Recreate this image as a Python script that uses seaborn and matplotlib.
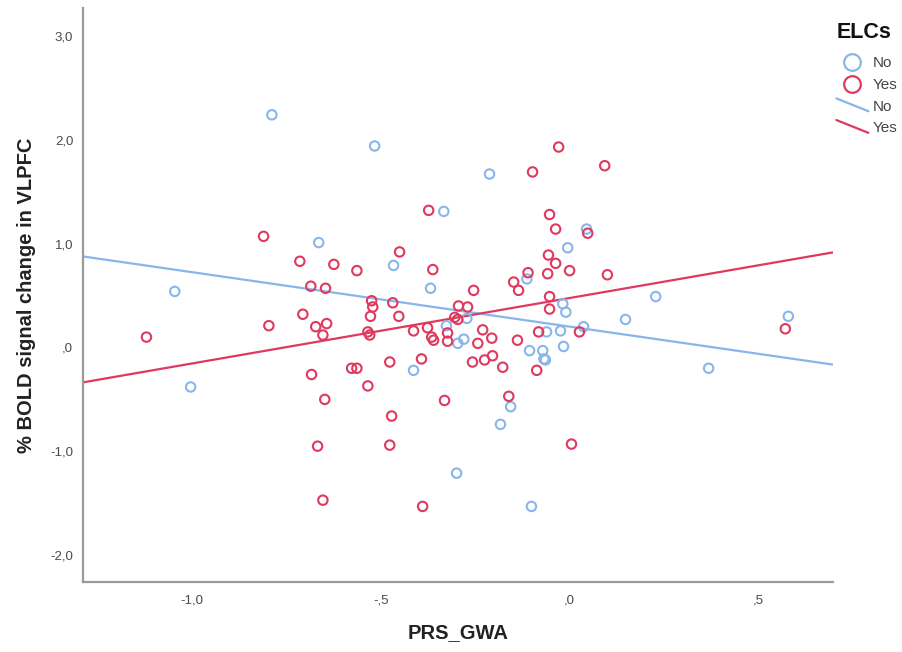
"""
Dispersión PRS_GWA vs % señal BOLD en VLPFC, por grupo ELCs (No / Yes),
con recta de ajuste lineal para cada grupo.
"""
import numpy as np
import pandas as pd
import matplotlib
matplotlib.use('Agg')
import matplotlib.pyplot as plt
import seaborn as sns
from matplotlib.lines import Line2D
from matplotlib.legend_handler import HandlerBase
from matplotlib.ticker import FuncFormatter

sns.set_theme(style='white')
plt.rcParams['font.family'] = ['Liberation Sans', 'DejaVu Sans']

# ─────────────────────────────────────────────
# Datos
# ─────────────────────────────────────────────
no_x = [-1.045, -1.003, -0.788, -0.664, -0.516, -0.466, -0.413, -0.368, -0.333,
        -0.326, -0.296, -0.280, -0.272, -0.299, -0.212, -0.183, -0.156, -0.113,
        -0.106, -0.101, -0.071, -0.068, -0.064, -0.061, -0.024, -0.018, -0.010,
        -0.016, -0.005, 0.037, 0.045, 0.148, 0.228, 0.368, 0.579]
no_y = [0.54, -0.38, 2.24, 1.01, 1.94, 0.79, -0.22, 0.57, 1.31,
        0.21, 0.04, 0.08, 0.28, -1.21, 1.67, -0.74, -0.57, 0.66,
        -0.03, -1.53, -0.03, -0.11, -0.12, 0.15, 0.16, 0.42, 0.34,
        0.01, 0.96, 0.20, 1.14, 0.27, 0.49, -0.20, 0.30]

yes_x = [-1.120, -0.810, -0.796, -0.714, -0.706, -0.685, -0.683, -0.672, -0.667,
         -0.653, -0.653, -0.648, -0.646, -0.643, -0.624, -0.577, -0.563, -0.563,
         -0.534, -0.534, -0.529, -0.527, -0.524, -0.521, -0.476, -0.476, -0.471,
         -0.468, -0.452, -0.450, -0.413, -0.392, -0.389, -0.376, -0.373, -0.365,
         -0.362, -0.360, -0.331, -0.323, -0.323, -0.304, -0.296, -0.294, -0.270,
         -0.257, -0.254, -0.243, -0.230, -0.225, -0.206, -0.204, -0.177, -0.161,
         -0.148, -0.138, -0.135, -0.110, -0.098, -0.087, -0.082, -0.058, -0.056,
         -0.053, -0.053, -0.053, -0.037, -0.037, -0.029, 0.000, 0.005, 0.026,
         0.048, 0.093, 0.100, 0.571]
yes_y = [0.10, 1.07, 0.21, 0.83, 0.32, 0.59, -0.26, 0.20, -0.95,
         0.12, -1.47, -0.50, 0.57, 0.23, 0.80, -0.20, -0.20, 0.74,
         0.15, -0.37, 0.12, 0.30, 0.45, 0.39, -0.14, -0.94, -0.66,
         0.43, 0.30, 0.92, 0.16, -0.11, -1.53, 0.19, 1.32, 0.10,
         0.75, 0.07, -0.51, 0.14, 0.06, 0.29, 0.27, 0.40, 0.39,
         -0.14, 0.55, 0.04, 0.17, -0.12, 0.09, -0.08, -0.19, -0.47,
         0.63, 0.07, 0.55, 0.72, 1.69, -0.22, 0.15, 0.71, 0.89,
         1.28, 0.49, 0.37, 1.14, 0.81, 1.93, 0.74, -0.93, 0.15,
         1.10, 1.75, 0.70, 0.18]

groups = ['No', 'Yes']
colors = {'No': '#88b6ec', 'Yes': '#e0395e'}
x_ticks = [-1.0, -0.5, 0.0, 0.5]
y_ticks = [-2.0, -1.0, 0.0, 1.0, 2.0, 3.0]

df = pd.concat([
    pd.DataFrame({'PRS_GWA': no_x, 'BOLD': no_y, 'ELCs': 'No'}),
    pd.DataFrame({'PRS_GWA': yes_x, 'BOLD': yes_y, 'ELCs': 'Yes'}),
], ignore_index=True)


def spss_fmt(v, pos=None):
    s = f'{v:.1f}'.replace('.', ',')
    if s.startswith('0,'):
        s = s[1:]
    elif s.startswith('-0,'):
        s = '-' + s[2:]
    return s


class DiagLineHandler(HandlerBase):
    """Asa de leyenda en diagonal, como en SPSS."""
    def create_artists(self, legend, orig, xdescent, ydescent, width, height,
                       fontsize, trans):
        x0, x1 = -xdescent, -xdescent + width
        y0, y1 = -ydescent + height * 1.15, -ydescent - height * 0.05
        ln = Line2D([x0, x1], [y0, y1], color=orig.get_color(),
                    linewidth=orig.get_linewidth(), transform=trans)
        return [ln]


# ─────────────────────────────────────────────
# Gráfico
# ─────────────────────────────────────────────
fig = plt.figure(figsize=(9.02, 6.52), dpi=100)
ax = fig.add_axes([0.092, 0.107, 0.831, 0.881])
xlim = (-1.288, 0.696)
ylim = (-2.26, 3.27)
ax.set_xlim(xlim)
ax.set_ylim(ylim)

for g in groups:
    sub = df[df['ELCs'] == g]
    sns.regplot(data=sub, x='PRS_GWA', y='BOLD', ax=ax, ci=None, truncate=False,
                color=colors[g], marker='o',
                scatter_kws={'s': 46, 'facecolors': 'none', 'linewidths': 1.5,
                             'alpha': 1.0, 'zorder': 3},
                line_kws={'linewidth': 1.6, 'zorder': 2})

ax.set_xlim(xlim)
ax.set_ylim(ylim)
ax.set_xticks(x_ticks)
ax.set_yticks(y_ticks)
ax.xaxis.set_major_formatter(FuncFormatter(spss_fmt))
ax.yaxis.set_major_formatter(FuncFormatter(spss_fmt))
ax.tick_params(axis='both', length=0, labelsize=9.5, labelcolor='#4a4a4a')
ax.tick_params(axis='y', pad=7)
ax.tick_params(axis='x', pad=9)

for side in ['top', 'right']:
    ax.spines[side].set_visible(False)
for side in ['left', 'bottom']:
    ax.spines[side].set_color('#9a9a9a')
    ax.spines[side].set_linewidth(1.6)

ax.set_xlabel('PRS_GWA', fontsize=14.5, fontweight='bold', color='#222222', labelpad=12)
ax.set_ylabel('% BOLD signal change in VLPFC', fontsize=14.5, fontweight='bold',
              color='#222222', labelpad=10)

# Leyenda
pt_handles = [Line2D([], [], linestyle='none', marker='o', markersize=12,
                     markerfacecolor='none', markeredgecolor=colors[g],
                     markeredgewidth=1.6) for g in groups]
ln_handles = [Line2D([], [], color=colors[g], linewidth=1.6) for g in groups]
leg = fig.legend(pt_handles + ln_handles, groups + groups,
                 loc='upper left', bbox_to_anchor=(0.912, 0.987),
                 title='ELCs', frameon=False, fontsize=11, handlelength=2.1,
                 handletextpad=0.26, labelspacing=0.5, alignment='left',
                 title_fontproperties={'size': 15.5, 'weight': 'bold'},
                 handler_map={h: DiagLineHandler() for h in ln_handles})
leg._legend_box.sep = 9.5
for t in leg.get_texts():
    t.set_color('#444444')
leg.get_title().set_color('#111111')

plt.savefig('out.png', dpi=100)
plt.close()
print('[OK] out.png')
